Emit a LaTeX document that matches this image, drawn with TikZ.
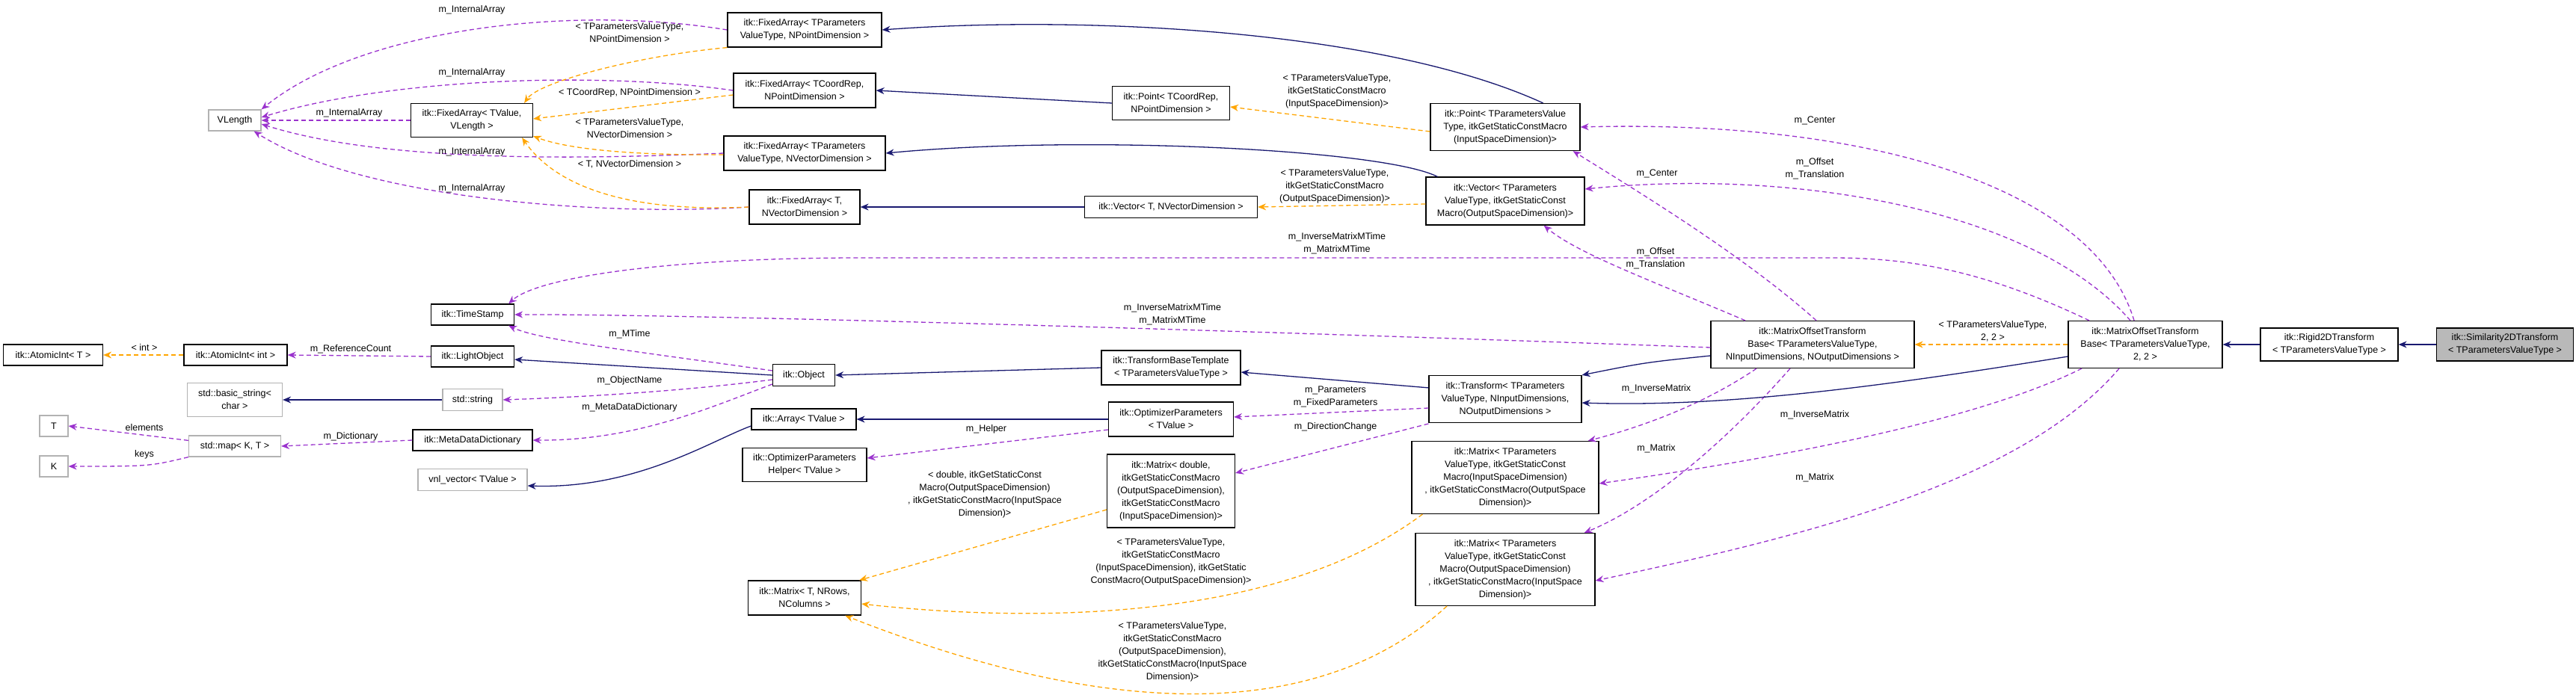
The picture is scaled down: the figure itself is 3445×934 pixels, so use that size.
\documentclass[tikz,border=0pt]{standalone}
\usepackage{fontspec}
\setmainfont{Liberation Sans}
\usetikzlibrary{arrows.meta}
\definecolor{inhblue}{HTML}{191970}
\definecolor{usepurple}{HTML}{9A32CD}
\definecolor{tplorange}{HTML}{FFA500}
\tikzset{
  cls/.style={draw=black, line width=1.2pt, fill=white, align=center, inner sep=2pt, font=\fontsize{12.5}{17}\selectfont},
  ext/.style={cls, draw=gray!60},
  lbl/.style={align=center, inner sep=0pt, font=\fontsize{12.5}{17}\selectfont},
  inh/.style={inhblue, line width=1.3pt, -{Stealth[length=11pt,width=9pt]}},
  use/.style={usepurple, line width=1.3pt, dash pattern=on 6pt off 4pt, -{Stealth[length=11pt,width=9pt]}},
  tpl/.style={tplorange, line width=1.3pt, dash pattern=on 6pt off 4pt, -{Stealth[length=11pt,width=9pt]}},
}
\begin{document}
\begin{tikzpicture}[x=1pt,y=-1pt]
\useasboundingbox (0,0) rectangle (3445,934);
% classes
\node[ext, minimum width=70, minimum height=28] (vlength) at (314,161) {VLength};
\node[cls, minimum width=163, minimum height=45] (faTValue) at (631,161) {itk::FixedArray< TValue,\\VLength >};
\node[cls, minimum width=206, minimum height=46] (faPoint) at (1076,40) {itk::FixedArray< TParameters\\ValueType, NPointDimension >};
\node[cls, minimum width=190, minimum height=46] (faCoord) at (1076,121) {itk::FixedArray< TCoordRep,\\NPointDimension >};
\node[cls, minimum width=216, minimum height=46] (faVector) at (1076,205) {itk::FixedArray< TParameters\\ValueType, NVectorDimension >};
\node[cls, minimum width=148, minimum height=46] (faT) at (1076,277) {itk::FixedArray< T,\\NVectorDimension >};
\node[cls, minimum width=157, minimum height=45] (pointCoord) at (1566,138) {itk::Point< TCoordRep,\\NPointDimension >};
\node[cls, minimum width=231, minimum height=29] (vectorT) at (1566,277) {itk::Vector< T, NVectorDimension >};
\node[cls, minimum width=200, minimum height=63] (pointPar) at (2013,170) {itk::Point< TParametersValue\\Type, itkGetStaticConstMacro\\(InputSpaceDimension)>};
\node[cls, minimum width=212, minimum height=64] (vectorPar) at (2013,269) {itk::Vector< TParameters\\ValueType, itkGetStaticConst\\Macro(OutputSpaceDimension)>};
\node[cls, minimum width=111, minimum height=28] (timeStamp) at (632,421) {itk::TimeStamp};
\node[cls, minimum width=133, minimum height=28] (atomicT) at (71,475) {itk::AtomicInt< T >};
\node[cls, minimum width=138, minimum height=28] (atomicInt) at (315,475) {itk::AtomicInt< int >};
\node[cls, minimum width=111, minimum height=28] (lightObject) at (632,477) {itk::LightObject};
\node[ext, minimum width=127, minimum height=45] (basicString) at (314,535) {std::basic\_string<\\char >};
\node[ext, minimum width=80, minimum height=29] (stdString) at (632,535) {std::string};
\node[ext, minimum width=38, minimum height=28] (tType) at (72,570) {T};
\node[ext, minimum width=38, minimum height=28] (kType) at (72,624) {K};
\node[ext, minimum width=123, minimum height=28] (stdMap) at (314,597) {std::map< K, T >};
\node[cls, minimum width=160, minimum height=28] (metaDict) at (632,589) {itk::MetaDataDictionary};
\node[ext, minimum width=146, minimum height=29] (vnlVector) at (632,642) {vnl\_vector< TValue >};
\node[cls, minimum width=83, minimum height=29] (object) at (1075,502) {itk::Object};
\node[cls, minimum width=186, minimum height=46] (transformBase) at (1566,492) {itk::TransformBaseTemplate\\< TParametersValueType >};
\node[cls, minimum width=140, minimum height=28] (array) at (1075,561) {itk::Array< TValue >};
\node[cls, minimum width=167, minimum height=46] (optParams) at (1566,561) {itk::OptimizerParameters\\< TValue >};
\node[cls, minimum width=166, minimum height=45] (optHelper) at (1076,622) {itk::OptimizerParameters\\Helper< TValue >};
\node[cls, minimum width=171, minimum height=98] (matrixDouble) at (1566,657) {itk::Matrix< double,\\itkGetStaticConstMacro\\(OutputSpaceDimension),\\itkGetStaticConstMacro\\(InputSpaceDimension)>};
\node[cls, minimum width=151, minimum height=46] (matrixT) at (1076,800) {itk::Matrix< T, NRows,\\NColumns >};
\node[cls, minimum width=250, minimum height=97] (matrixInv) at (2013,639) {itk::Matrix< TParameters\\ValueType, itkGetStaticConst\\Macro(InputSpaceDimension)\\, itkGetStaticConstMacro(OutputSpace\\Dimension)>};
\node[cls, minimum width=240, minimum height=97] (matrixFwd) at (2013,762) {itk::Matrix< TParameters\\ValueType, itkGetStaticConst\\Macro(OutputSpaceDimension)\\, itkGetStaticConstMacro(InputSpace\\Dimension)>};
\node[cls, minimum width=204, minimum height=63] (transform) at (2013,534) {itk::Transform< TParameters\\ValueType, NInputDimensions,\\NOutputDimensions >};
\node[cls, minimum width=272, minimum height=63] (motbN) at (2424,461) {itk::MatrixOffsetTransform\\Base< TParametersValueType,\\NInputDimensions, NOutputDimensions >};
\node[cls, minimum width=206, minimum height=63] (motb22) at (2869,461) {itk::MatrixOffsetTransform\\Base< TParametersValueType,\\2, 2 >};
\node[cls, minimum width=184, minimum height=44] (rigid) at (3115,461) {itk::Rigid2DTransform\\< TParametersValueType >};
\node[cls, fill=gray!55, minimum width=183, minimum height=44] (similarity) at (3350,461) {itk::Similarity2DTransform\\< TParametersValueType >};
% internal arrays
\draw[use] (faPoint.west) .. controls (760,5) and (480,40) .. (vlength.north east);
\draw[use] (faCoord.west) .. controls (800,95) and (520,105) .. ([yshift=4pt]vlength.east);
\draw[use] (faTValue.west) -- (vlength.east);
\draw[use] (faVector.west) .. controls (800,212) and (520,220) .. ([yshift=-5pt]vlength.east);
\draw[use] (faT.west) .. controls (800,290) and (480,265) .. ([xshift=-10pt]vlength.south east);
\draw[tpl] (faPoint.south west) .. controls (850,75) and (720,110) .. ([xshift=-12pt]faTValue.north east);
\draw[tpl] ([yshift=-6pt]faCoord.west) -- ([yshift=2pt]faTValue.east);
\draw[tpl] ([yshift=-2pt]faVector.west) .. controls (850,208) and (760,200) .. ([yshift=2pt]faTValue.south east);
\draw[tpl] (faT.west) .. controls (830,285) and (740,245) .. ([xshift=-15pt]faTValue.south east);
\node[lbl] (lArr1) at (631,13) {m\_InternalArray};
\node[lbl] (lArr2) at (631,97) {m\_InternalArray};
\node[lbl] (lArr3) at (467,151) {m\_InternalArray};
\node[lbl] (lArr4) at (631,203) {m\_InternalArray};
\node[lbl] (lArr5) at (631,252) {m\_InternalArray};
\node[lbl] (lTpl1) at (842,44) {< TParametersValueType,\\NPointDimension >};
\node[lbl] (lTpl2) at (842,124) {< TCoordRep, NPointDimension >};
\node[lbl] (lTpl3) at (842,172) {< TParametersValueType,\\NVectorDimension >};
\node[lbl] (lTpl4) at (842,220) {< T, NVectorDimension >};
% points and vectors
\draw[inh] (pointCoord.west) -- (faCoord.east);
\draw[inh] (vectorT.west) -- (faT.east);
\draw[inh] ([xshift=-50pt]pointPar.north east) .. controls (1850,40) and (1450,20) .. (faPoint.east);
\draw[inh] ([xshift=16pt]vectorPar.north west) .. controls (1850,200) and (1450,180) .. (faVector.east);
\draw[tpl] ([yshift=-6pt]pointPar.west) -- ([yshift=-5pt]pointCoord.east);
\draw[tpl] ([yshift=-4pt]vectorPar.west) -- (vectorT.east);
\node[lbl] (lPoint) at (1788,122) {< TParametersValueType,\\itkGetStaticConstMacro\\(InputSpaceDimension)>};
\node[lbl] (lVector) at (1785,249) {< TParametersValueType,\\itkGetStaticConstMacro\\(OutputSpaceDimension)>};
% matrix offset transform members
\draw[use] ([xshift=5pt]motbN.north) .. controls (2330,340) and (2180,250) .. ([xshift=-10pt]pointPar.south east);
\draw[use] ([xshift=-90pt]motbN.north) .. controls (2220,380) and (2110,340) .. ([xshift=-55pt]vectorPar.south east);
\draw[use] ([xshift=-15pt]motb22.north) .. controls (2800,250) and (2500,160) .. (pointPar.east);
\draw[use] ([xshift=-20pt]motb22.north) .. controls (2720,280) and (2400,225) .. ([yshift=16pt]vectorPar.east);
\draw[use] ([xshift=-75pt]motb22.north) .. controls (2650,360) and (2550,345) .. (2450,345) -- (1150,345) .. controls (900,345) and (720,370) .. ([xshift=-8pt]timeStamp.north east);
\draw[use] ([yshift=-4pt]motbN.west) .. controls (1600,440) and (900,420) .. (timeStamp.east);
\draw[use] ([xshift=-75pt]motbN.south) .. controls (2280,540) and (2200,570) .. ([xshift=-15pt]matrixInv.north east);
\draw[use] ([xshift=-30pt]motbN.south) .. controls (2300,600) and (2200,680) .. ([xshift=-15pt]matrixFwd.north east);
\draw[use] ([xshift=-85pt]motb22.south) .. controls (2650,560) and (2400,610) .. ([yshift=-8pt]matrixInv.east);
\draw[use] ([xshift=-35pt]motb22.south) .. controls (2700,650) and (2400,720) .. ([yshift=-15pt]matrixFwd.east);
\draw[tpl] (motb22.west) -- (motbN.east);
\node[lbl] (lCenter1) at (2216,232) {m\_Center};
\node[lbl] (lOffset1) at (2214,346) {m\_Offset\\m\_Translation};
\node[lbl] (lCenter2) at (2427,161) {m\_Center};
\node[lbl] (lOffset2) at (2427,226) {m\_Offset\\m\_Translation};
\node[lbl] (lMTime1) at (1788,326) {m\_InverseMatrixMTime\\m\_MatrixMTime};
\node[lbl] (lMTime2) at (1568,421) {m\_InverseMatrixMTime\\m\_MatrixMTime};
\node[lbl] (lInv1) at (2215,520) {m\_InverseMatrix};
\node[lbl] (lMat1) at (2215,600) {m\_Matrix};
\node[lbl] (lInv2) at (2427,555) {m\_InverseMatrix};
\node[lbl] (lMat2) at (2427,639) {m\_Matrix};
\node[lbl] (lTpl22) at (2665,443) {< TParametersValueType,\\2, 2 >};
% inheritance chain
\draw[inh] ([yshift=-15pt]motbN.west) .. controls (2200,485) .. (transform.north east);
\draw[inh] ([yshift=-16pt]motb22.west) .. controls (2500,520) and (2300,545) .. ([yshift=-5pt]transform.east);
\draw[inh] (rigid.west) -- (motb22.east);
\draw[inh] (similarity.west) -- (rigid.east);
\draw[inh] ([yshift=-17pt]transform.north west) -- ([yshift=-6pt]transformBase.east);
\draw[inh] (transformBase.west) -- (object.east);
\draw[inh] (object.west) -- ([yshift=-4pt]lightObject.east);
% object members
\draw[use] ([yshift=6pt]object.west) .. controls (850,470) and (720,455) .. ([xshift=-8pt]timeStamp.south east);
\draw[use] (lightObject.west) -- (atomicInt.east);
\draw[tpl] (atomicInt.west) -- (atomicT.east);
\draw[use] ([yshift=-6pt]object.west) .. controls (900,525) and (760,532) .. (stdString.east);
\draw[use] ([yshift=-12pt]object.west) .. controls (950,545) and (850,590) .. (metaDict.east);
\draw[inh] (stdString.west) -- (basicString.east);
\draw[use] (metaDict.west) -- (stdMap.east);
\draw[use] ([yshift=-7pt]stdMap.north west) -- (tType.east);
\draw[use] (stdMap.south west) .. controls (200,624) .. (kType.east);
\draw[inh] ([yshift=-9pt]array.west) .. controls (950,590) and (850,655) .. ([yshift=-8pt]vnlVector.east);
\node[lbl] (lMTime) at (842,447) {m\_MTime};
\node[lbl] (lRefCount) at (469,467) {m\_ReferenceCount};
\node[lbl] (lInt) at (193,465) {< int >};
\node[lbl] (lName) at (842,509) {m\_ObjectName};
\node[lbl] (lMeta) at (842,545) {m\_MetaDataDictionary};
\node[lbl] (lDict) at (469,584) {m\_Dictionary};
\node[lbl] (lElem) at (193,572) {elements};
\node[lbl] (lKeys) at (193,608) {keys};
% parameters and matrices
\draw[inh] (optParams.west) -- (array.east);
\draw[use] ([yshift=-12pt]transform.west) -- ([yshift=3pt]optParams.east);
\draw[use] ([yshift=-14pt]optParams.west) -- ([yshift=9pt]optHelper.east);
\draw[use] ([yshift=-33pt]transform.west) -- ([yshift=24pt]matrixDouble.east);
\draw[tpl] ([yshift=-25pt]matrixDouble.west) -- ([xshift=-3pt]matrixT.north east);
\draw[tpl] ([xshift=15pt]matrixInv.south west) .. controls (1700,840) and (1350,830) .. ([yshift=-8pt]matrixT.east);
\draw[tpl] ([xshift=-78pt]matrixFwd.south) .. controls (1750,980) and (1450,950) .. ([xshift=-22pt]matrixT.south east);
\node[lbl] (lParams) at (1786,531) {m\_Parameters\\m\_FixedParameters};
\node[lbl] (lHelper) at (1319,574) {m\_Helper};
\node[lbl] (lDir) at (1786,571) {m\_DirectionChange};
\node[lbl] (lTplD) at (1317,662) {< double, itkGetStaticConst\\Macro(OutputSpaceDimension)\\, itkGetStaticConstMacro(InputSpace\\Dimension)>};
\node[lbl] (lTplI) at (1566,752) {< TParametersValueType,\\itkGetStaticConstMacro\\(InputSpaceDimension), itkGetStatic\\ConstMacro(OutputSpaceDimension)>};
\node[lbl] (lTplF) at (1568,872) {< TParametersValueType,\\itkGetStaticConstMacro\\(OutputSpaceDimension),\\itkGetStaticConstMacro(InputSpace\\Dimension)>};
\end{tikzpicture}
\end{document}
